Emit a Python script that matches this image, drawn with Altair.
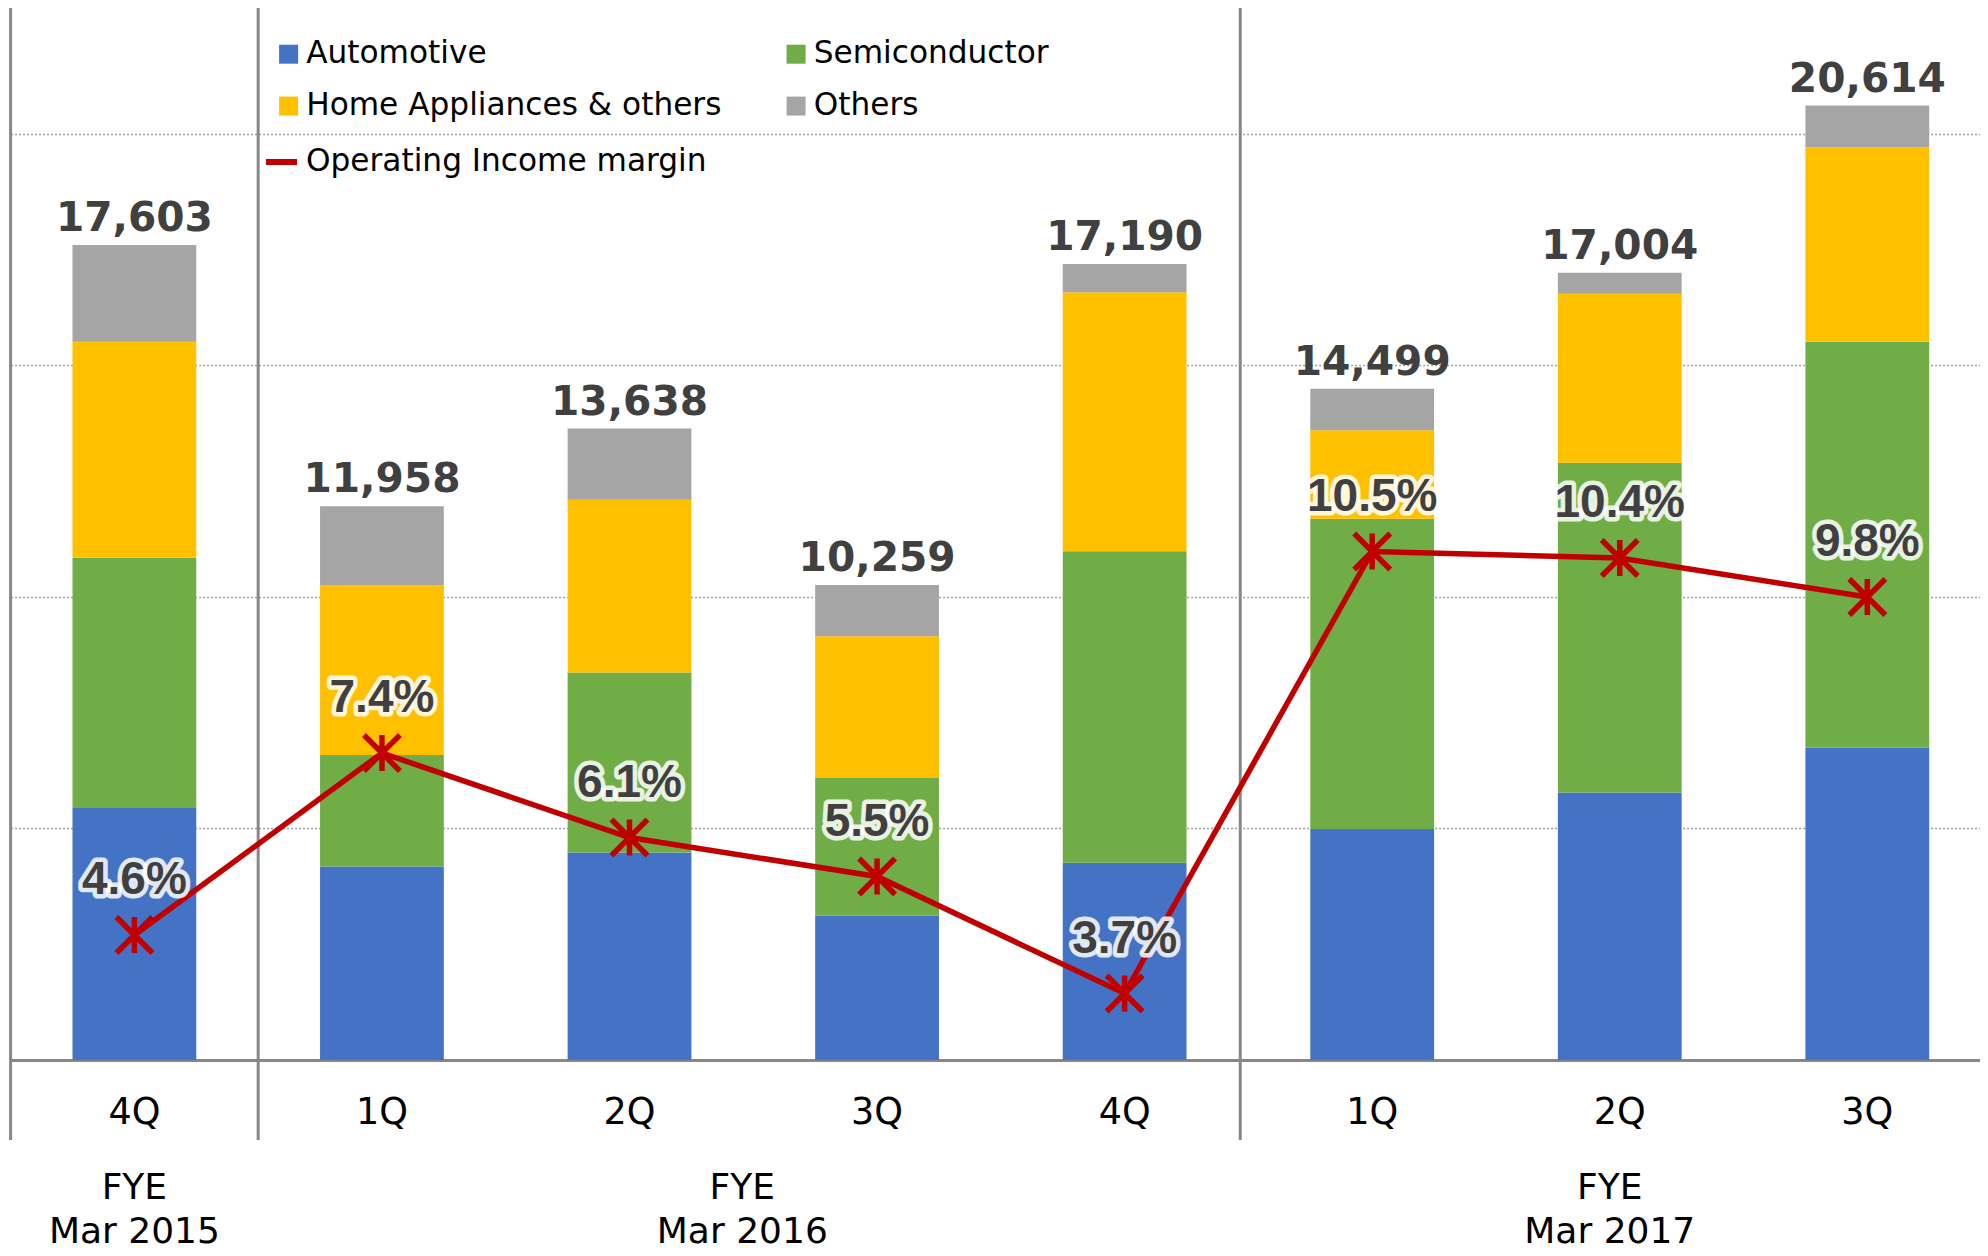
import altair as alt
import pandas as pd

# ---- data ----
keys = ["4Q FY15", "1Q FY16", "2Q FY16", "3Q FY16", "4Q FY16", "1Q FY17", "2Q FY17", "3Q FY17"]
automotive = [5440, 4180, 4480, 3120, 4260, 4990, 5780, 6745]
semiconductor = [5410, 2410, 3890, 2970, 6730, 6700, 7120, 8770]
home_appliances = [4660, 3660, 3730, 3060, 5590, 1910, 3650, 4200]
others = [2093, 1708, 1538, 1109, 610, 899, 454, 899]
totals = [17603, 11958, 13638, 10259, 17190, 14499, 17004, 20614]
margins = [4.6, 7.4, 6.1, 5.5, 3.7, 10.5, 10.4, 9.8]

segments = ["Automotive", "Semiconductor", "Home Appliances & others", "Others"]
seg_colors = ["#4472C4", "#70AD47", "#FFC000", "#A5A5A5"]
seg_values = [automotive, semiconductor, home_appliances, others]

rows = []
for s_i, (seg, vals) in enumerate(zip(segments, seg_values)):
    for k, v in zip(keys, vals):
        rows.append({"key": k, "segment": seg, "value": v, "order": s_i})
bars_df = pd.DataFrame(rows)
tot_df = pd.DataFrame({"key": keys, "total": totals, "margin": margins,
                       "series": ["Operating Income margin"] * len(keys)})

FONT = "DejaVu Sans"
W, H = 1968, 1052
Y_MAX = 22721
P_MIN, P_MAX = 2.677, 18.862
LEG_FS = 31.2

x_axis = alt.Axis(title=None, labelExpr="split(datum.label, ' ')[0]", labelAngle=0,
                  labelFontSize=36.5, labelFont=FONT, labelColor="black", ticks=False,
                  labelPadding=63.5, labelBaseline="alphabetic", domainColor="#878787",
                  domainWidth=3, grid=False)
x_scale = alt.Scale(paddingInner=0, paddingOuter=0, range=[0.6, 1981.1])


def X(bp=None):
    if bp is None:
        return alt.X("key:N", sort=keys, scale=x_scale, axis=x_axis)
    return alt.X("key:N", sort=keys, scale=x_scale, axis=x_axis, bandPosition=bp)


y_scale = alt.Scale(domain=[0, Y_MAX], nice=False, zero=True)
y_axis = alt.Axis(values=[5000, 10000, 15000, 20000], labels=False, ticks=False,
                  domain=False, grid=True, gridDash=[2, 2], gridColor="#a0a0a0",
                  gridWidth=1.5, title=None)

bars = alt.Chart(bars_df).mark_bar(width=alt.RelativeBandSize(0.5)).encode(
    x=X(),
    y=alt.Y("value:Q", stack="zero", scale=y_scale, axis=y_axis),
    color=alt.Color("segment:N", scale=alt.Scale(domain=segments, range=seg_colors),
                    legend=alt.Legend(orient="none", legendX=263, legendY=30.5, columns=2,
                                      direction="horizontal",
                                      columnPadding=58.5, rowPadding=20, symbolType="square",
                                      symbolSize=361, symbolStrokeWidth=0, labelFontSize=LEG_FS,
                                      labelFont=FONT, labelColor="black", labelOffset=2,
                                      labelLimit=1000, title=None, padding=0)),
    order=alt.Order("order:Q"),
)

total_text = alt.Chart(tot_df).mark_text(font=FONT, fontWeight="bold", fontSize=40.7,
                                         color="#404040", baseline="alphabetic", dy=-14).encode(
    x=X(),
    y=alt.Y("total:Q", scale=y_scale, axis=y_axis),
    text=alt.Text("total:Q", format=","),
)

# group separators (left edge, between FYE groups)
sep_start = pd.DataFrame({"key": [keys[0], keys[1]]})
sep_mid = pd.DataFrame({"key": [keys[4]]})
sep_rule_a = alt.Chart(sep_start).mark_rule(color="#878787", strokeWidth=3).encode(
    x=X(0), y=alt.value(0), y2=alt.value(1132))
sep_rule_b = alt.Chart(sep_mid).mark_rule(color="#878787", strokeWidth=3).encode(
    x=X(0.967), y=alt.value(0), y2=alt.value(1132))


def fye_layer(key, label, bp, dx):
    df = pd.DataFrame({"key": [key], "label": [label]})
    return alt.Chart(df).mark_text(font=FONT, fontSize=36, color="black", baseline="alphabetic",
                                   lineBreak="\n", lineHeight=44, dx=dx).encode(
        x=X(bp), y=alt.value(1191), text="label:N")


fye_a = fye_layer(keys[0], "FYE\nMar 2015", 0.5, 0)
fye_b = fye_layer(keys[3], "FYE\nMar 2016", 0, -11)
fye_c = fye_layer(keys[6], "FYE\nMar 2017", 0.5, -10)

y_pct = alt.Y("margin:Q", scale=alt.Scale(domain=[P_MIN, P_MAX], nice=False, zero=False), axis=None)

line = alt.Chart(tot_df).mark_line(strokeWidth=5.5).encode(
    x=X(), y=y_pct,
    stroke=alt.Stroke("series:N", scale=alt.Scale(domain=["Operating Income margin"], range=["#C00000"]),
                      legend=alt.Legend(orient="none", legendX=253, legendY=135.5, symbolType="stroke",
                                        symbolSize=961, symbolStrokeWidth=6, labelFontSize=LEG_FS,
                                        labelFont=FONT, labelColor="black", labelOffset=6,
                                        labelLimit=1000, title=None, padding=0)),
)

star = "M-1,-1L1,1M1,-1L-1,1M0,-1L0,1"
points = alt.Chart(tot_df).mark_point(shape=star, size=1296, filled=False, color="#C00000",
                                      strokeWidth=5.5, opacity=1).encode(x=X(), y=y_pct)

pct_halo = alt.Chart(tot_df).transform_calculate(
    lbl="format(datum.margin, '.1f') + '%'"
).mark_text(font="Liberation Sans", fontWeight="bold", fontSize=46, color="white",
            stroke="white", strokeWidth=9, strokeOpacity=0.85, strokeJoin="round",
            baseline="middle", dy=-55).encode(x=X(), y=y_pct, text="lbl:N")

pct_text = alt.Chart(tot_df).transform_calculate(
    lbl="format(datum.margin, '.1f') + '%'"
).mark_text(font="Liberation Sans", fontWeight="bold", fontSize=46, color="#404040",
            baseline="middle", dy=-55).encode(x=X(), y=y_pct, text="lbl:N")

left = alt.layer(bars, total_text, sep_rule_a, sep_rule_b, fye_a, fye_b, fye_c)
right = alt.layer(line, points, pct_halo, pct_text)

chart = alt.layer(left, right).resolve_scale(y="independent", stroke="independent").properties(
    width=W, height=H,
    autosize=alt.AutoSizeParams(type="none"),
    padding={"left": 2, "right": 2, "top": 0, "bottom": 186},
    background="white",
).configure_view(stroke=None)

chart.save("out.html", embed_options={"renderer": "svg", "actions": False})
